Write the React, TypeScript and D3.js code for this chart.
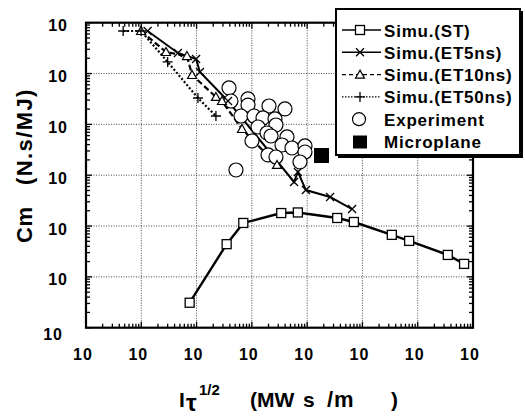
import React from 'react';
import * as d3 from 'd3';

const W = 525;
const H = 417;
const box = { left: 86, right: 473, top: 22.7, bottom: 327.7 };
const font = "'Liberation Sans', Arial, Helvetica, sans-serif";

// Simu.(ST)
const stX = [75, 350, 700, 3400, 6800, 35000, 70000, 340000, 700000, 3.5e6, 6.9e6];
const stY = [3.1, 44, 115, 180, 185, 144, 120, 67, 51, 27, 18];
// Simu.(ET5ns)
const et5X = [13, 46, 98, 115, 370, 5800, 6800, 9500, 26000, 65000];
const et5Y = [687000, 254000, 193000, 107000, 28800, 735, 1160, 510, 373, 216];
// Simu.(ET10ns)
const et10X = [9.9, 28, 67, 83, 224, 288, 663, 2850];
const et10Y = [687000, 265000, 221000, 93600, 34600, 28800, 8100, 1590];
// Simu.(ET50ns)
const et50X = [4.7, 9.9, 30, 106, 224];
const et50Y = [687000, 687000, 169000, 33000, 14600];
// Experiment
const expX = [386, 419, 851, 851, 636, 1093, 2040, 3970, 1590, 2620, 1290, 2730, 1880, 2220,
  1005, 4320, 3510, 5320, 9140, 9140, 1960, 2730, 7420, 516];
const expY = [52000, 28800, 31600, 24000, 14600, 14600, 23000, 20100, 13400, 12800, 8880, 9720,
  6770, 5910, 4710, 5650, 3930, 3430, 3760, 2860, 2500, 2280, 1820, 1267];
// Microplane
const microX = [18200];
const microY = [2440];

const legendLabels = ['Simu.(ST)', 'Simu.(ET5ns)', 'Simu.(ET10ns)', 'Simu.(ET50ns)', 'Experiment', 'Microplane'];

const x = d3.scaleLog().domain([1, 1e7]).range([box.left, box.right]);
const y = d3.scaleLog().domain([1, 1e6]).range([box.bottom, box.top]);

const isMajor = (v: number) => Math.abs(Math.log10(v) - Math.round(Math.log10(v))) < 1e-9;

const Marker = ({ kind, cx, cy }: { kind: string; cx: number; cy: number }) => {
  if (kind === 'square')
    return <rect x={cx - 4.5} y={cy - 4.5} width={9} height={9} fill="white" stroke="black" strokeWidth={1.3} />;
  if (kind === 'cross')
    return <path d={`M${cx - 4},${cy - 4}L${cx + 4},${cy + 4}M${cx - 4},${cy + 4}L${cx + 4},${cy - 4}`} stroke="black" strokeWidth={1.3} />;
  if (kind === 'tri')
    return <path d={`M${cx},${cy - 4.5}L${cx + 4.5},${cy + 3.5}L${cx - 4.5},${cy + 3.5}Z`} fill="white" stroke="black" strokeWidth={1.2} />;
  if (kind === 'plus')
    return <path d={`M${cx - 5},${cy}L${cx + 5},${cy}M${cx},${cy - 5}L${cx},${cy + 5}`} stroke="black" strokeWidth={1.3} />;
  if (kind === 'circle')
    return <circle cx={cx} cy={cy} r={7} fill="white" stroke="black" strokeWidth={1.2} />;
  return <rect x={cx - 7.5} y={cy - 7.5} width={15} height={15} fill="black" />;
};

const series = [
  { xs: stX, ys: stY, kind: 'square', dash: undefined, width: 2.4 },
  { xs: et5X, ys: et5Y, kind: 'cross', dash: undefined, width: 2 },
  { xs: et10X, ys: et10Y, kind: 'tri', dash: '6,3', width: 2.2 },
  { xs: et50X, ys: et50Y, kind: 'plus', dash: '2,2', width: 2.2 },
];

const legendStyles = [
  { kind: 'square', dash: undefined, line: true },
  { kind: 'cross', dash: undefined, line: true },
  { kind: 'tri', dash: '4,3', line: true },
  { kind: 'plus', dash: '1.5,1.5', line: true },
  { kind: 'circle', dash: undefined, line: false },
  { kind: 'fill', dash: undefined, line: false },
];

export default function App() {
  const line = d3.line<number>().x((d) => d[0]).y((d) => d[1]);
  const xt = x.ticks();
  const yt = y.ticks();
  const xMaj = xt.filter(isMajor);
  const yMaj = yt.filter(isMajor);

  return (
    <svg width={W} height={H} style={{ position: 'absolute', left: 0, top: 0 }} fontFamily={font}>
      <rect width={W} height={H} fill="white" />
      {/* grid */}
      {xMaj.slice(1, -1).map((t) => (
        <line key={'gx' + t} x1={x(t)} x2={x(t)} y1={box.top} y2={box.bottom} stroke="#333" strokeWidth={0.9} strokeDasharray="1,1.5" />
      ))}
      {yMaj.slice(1, -1).map((t) => (
        <line key={'gy' + t} y1={y(t)} y2={y(t)} x1={box.left} x2={box.right} stroke="#333" strokeWidth={0.9} strokeDasharray="1,1.5" />
      ))}
      {/* ticks, inside on all sides */}
      {xt.map((t) => {
        const len = isMajor(t) ? 6 : 4;
        return (
          <g key={'tx' + t} stroke="black" strokeWidth={1.3}>
            <line x1={x(t)} x2={x(t)} y1={box.bottom} y2={box.bottom - len} />
            <line x1={x(t)} x2={x(t)} y1={box.top} y2={box.top + len} />
          </g>
        );
      })}
      {yt.map((t) => {
        const len = isMajor(t) ? 6 : 4;
        return (
          <g key={'ty' + t} stroke="black" strokeWidth={1.3}>
            <line y1={y(t)} y2={y(t)} x1={box.left} x2={box.left + len} />
            <line y1={y(t)} y2={y(t)} x1={box.right} x2={box.right - len} />
          </g>
        );
      })}
      <rect x={box.left} y={box.top} width={box.right - box.left} height={box.bottom - box.top} fill="none" stroke="black" strokeWidth={2.2} />

      {/* lines */}
      {series.map((s, i) => (
        <path key={'l' + i} d={line(s.xs.map((v, j) => [x(v), y(s.ys[j])]) as any) || ''} fill="none" stroke="black" strokeWidth={s.width} strokeDasharray={s.dash} />
      ))}
      {/* experiment */}
      {expX.map((v, i) => (
        <Marker key={'e' + i} kind="circle" cx={x(v)} cy={y(expY[i])} />
      ))}
      {/* markers */}
      {series.map((s, i) => (
        <g key={'m' + i}>
          {s.xs.map((v, j) => (
            <Marker key={j} kind={s.kind} cx={x(v)} cy={y(s.ys[j])} />
          ))}
        </g>
      ))}
      {microX.map((v, i) => (
        <Marker key={'mp' + i} kind="fill" cx={x(v)} cy={y(microY[i])} />
      ))}

      {/* tick labels */}
      {xMaj.map((t) => (
        <text key={'lx' + t} x={x(t) - 3} y={360} textAnchor="middle" fontSize={16} fontWeight="bold" letterSpacing={1}>10</text>
      ))}
      {yMaj.map((t, i) => (
        <text key={'ly' + t} x={i === 0 ? 63 : 68} y={y(t) + (i === 0 ? 12 : 8.5)} textAnchor="end" fontSize={16} fontWeight="bold" letterSpacing={1}>10</text>
      ))}

      {/* axis titles */}
      <text transform="translate(32,243) rotate(-90)" fontSize={22} fontWeight="bold" letterSpacing={0.5}>Cm</text>
      <text transform="translate(32,185) rotate(-90)" fontSize={22} fontWeight="bold" letterSpacing={1.4}>(N.s/MJ)</text>
      <g fontWeight="bold">
        <text x={179} y={407} fontSize={21}>I</text>
        <text x={186} y={411} fontSize={24}>τ</text>
        <text x={199} y={395} fontSize={15}>1/2</text>
        <text x={250} y={407} fontSize={21}>(MW</text>
        <text x={303} y={407} fontSize={21}>s</text>
        <text x={327} y={407} fontSize={22} letterSpacing={1}>/m</text>
        <text x={391} y={407} fontSize={21}>)</text>
      </g>

      {/* legend */}
      <rect x={338} y={11} width={185} height={147} fill="black" />
      <rect x={336} y={9} width={184} height={146} fill="white" stroke="black" strokeWidth={2} />
      {legendLabels.map((lab, i) => {
        const cy = 30 + i * 22.3;
        const st = legendStyles[i];
        return (
          <g key={'lg' + i}>
            {st.line && <line x1={342} x2={381} y1={cy} y2={cy} stroke="black" strokeWidth={1.4} strokeDasharray={st.dash} />}
            {st.kind === 'circle' ? (
              <circle cx={359} cy={cy} r={6.5} fill="white" stroke="black" strokeWidth={1.2} />
            ) : st.kind === 'fill' ? (
              <rect x={353} y={cy - 6} width={14} height={13} fill="black" />
            ) : (
              <Marker kind={st.kind} cx={360} cy={cy} />
            )}
            <text x={384} y={cy + 6.5} fontSize={17} fontWeight="bold" letterSpacing={0.8}>{lab}</text>
          </g>
        );
      })}
    </svg>
  );
}
